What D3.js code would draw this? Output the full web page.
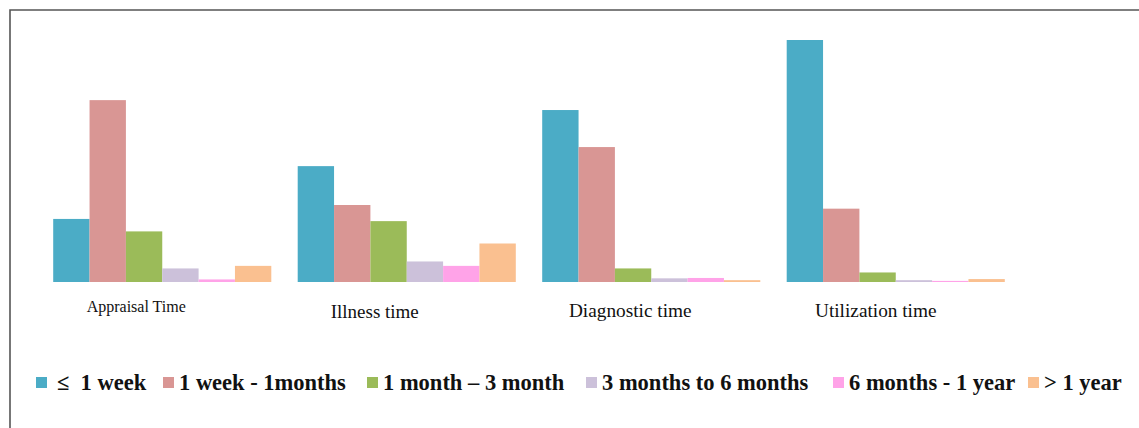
<!DOCTYPE html>
<html>
<head>
<meta charset="utf-8">
<script src="https://cdn.jsdelivr.net/npm/d3@7"></script>
<style>
  html, body { margin: 0; padding: 0; background: #fff; }
  svg { display: block; }
</style>
</head>
<body>
<svg id="chart" width="1139" height="428"></svg>
<script>
// ---- data ----
const categories = ["Appraisal Time", "Illness time", "Diagnostic time", "Utilization time"];
const seriesNames = ["\u2264  1 week", "1 week - 1months", "1 month \u2013 3 month", "3 months to 6 months", "6 months - 1 year", "> 1 year"];
const week1     = [17.2, 31.6, 46.9, 66.0];
const month1    = [49.6, 21.0, 36.8, 20.0];
const month3    = [13.8, 16.6, 3.7, 2.6];
const month6    = [3.7, 5.6, 1.0, 0.5];
const year1     = [0.7, 4.4, 1.1, 0.3];
const overYear  = [4.4, 10.5, 0.5, 0.8];
const seriesValues = [week1, month1, month3, month6, year1, overYear];

// ---- style / layout ----
const colors = ["#4BACC6", "#D99694", "#9BBB59", "#CCC1DA", "#FFA3E8", "#FAC090"];
const labelDx = [-26, -32, -21, -20];
const labelSize = [16, 19, 19.3, 19.3];
const labelY = [312, 318, 317, 317];
const legendX = [36, 163, 367, 586, 833, 1028];

const svg = d3.select("#chart");

// frame
svg.append("path")
  .attr("d", "M10,428 L10,10 L1139,10")
  .attr("fill", "none")
  .attr("stroke", "#555")
  .attr("stroke-width", 1.6);

const x0 = d3.scaleBand().domain(categories).range([40, 1018]).paddingInner(0.108).paddingOuter(0.054);
const x1 = d3.scaleBand().domain(d3.range(seriesNames.length)).range([0, x0.bandwidth()]).padding(0);
const y = d3.scaleLinear().domain([0, 66]).range([282, 40]);

const rows = categories.map((c, i) => ({ cat: c, vals: seriesValues.map(s => s[i]) }));

const groups = svg.append("g").selectAll("g").data(rows).join("g")
  .attr("transform", d => `translate(${x0(d.cat)},0)`);

groups.selectAll("rect").data(d => d.vals.map((v, k) => ({ v, k }))).join("rect")
  .attr("x", d => x1(d.k))
  .attr("width", x1.bandwidth())
  .attr("y", d => y(d.v))
  .attr("height", d => y(0) - y(d.v))
  .attr("fill", d => colors[d.k]);

// category labels
svg.append("g").selectAll("text").data(categories).join("text")
  .attr("x", (d, i) => x0(d) + x0.bandwidth() / 2 + labelDx[i])
  .attr("y", (d, i) => labelY[i])
  .attr("text-anchor", "middle")
  .attr("font-family", "'Liberation Serif', 'Times New Roman', serif")
  .attr("font-size", (d, i) => labelSize[i])
  .attr("fill", "#111")
  .style("white-space", "pre")
  .text(d => d);

// legend
const leg = svg.append("g").selectAll("g").data(seriesNames).join("g")
  .attr("transform", (d, i) => `translate(${legendX[i]},0)`);
leg.append("rect")
  .attr("x", 0).attr("y", 377).attr("width", 11).attr("height", 11)
  .attr("fill", (d, i) => colors[i]);
leg.append("text")
  .attr("x", (d, i) => i === 0 ? 21 : 16)
  .attr("y", 390)
  .attr("font-family", "'Liberation Serif', 'Times New Roman', serif")
  .attr("font-weight", "bold")
  .attr("font-size", 22.5)
  .attr("fill", "#111")
  .style("white-space", "pre")
  .text(d => d);
</script>
</body>
</html>
